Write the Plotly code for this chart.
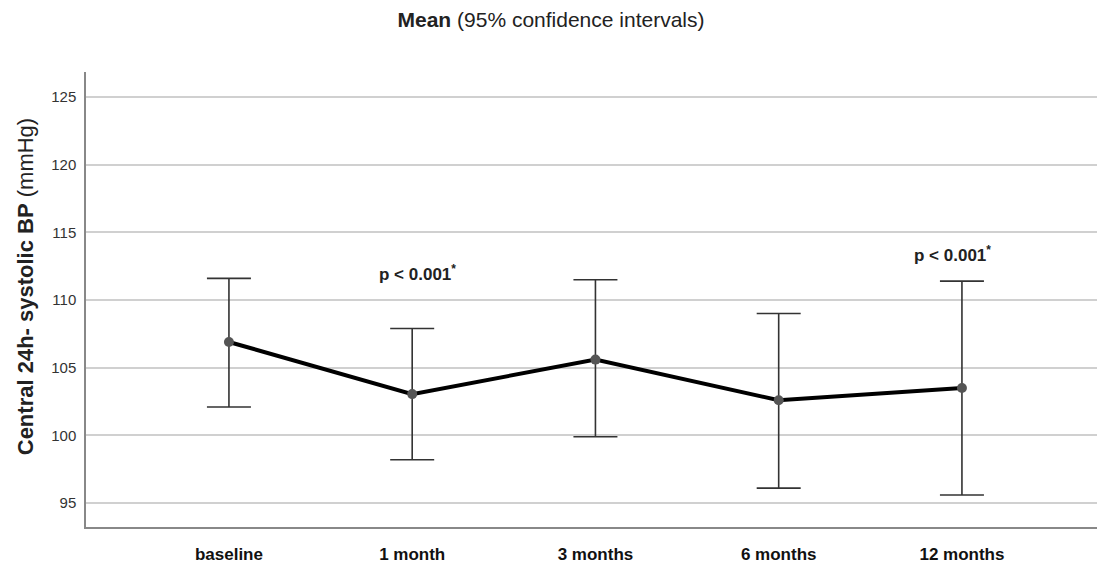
import plotly.graph_objects as go

categories = ["baseline", "1 month", "3 months", "6 months", "12 months"]
means = [106.9, 103.05, 105.6, 102.6, 103.5]
upper = [111.6, 107.9, 111.5, 109.0, 111.4]
lower = [102.1, 98.2, 99.9, 96.1, 95.6]
y_ticks = [95, 100, 105, 110, 115, 120, 125]

err_plus = [u - m for u, m in zip(upper, means)]
err_minus = [m - l for m, l in zip(means, lower)]
xs = list(range(len(categories)))

fig = go.Figure()
fig.add_trace(go.Scatter(
    x=xs, y=means, mode="lines+markers",
    line=dict(color="black", width=4),
    marker=dict(color="#555555", size=10),
    error_y=dict(type="data", symmetric=False, array=err_plus, arrayminus=err_minus,
                 color="#333333", thickness=1.6, width=22),
    showlegend=False, hoverinfo="y",
))

font_family = "Liberation Sans, Arial, sans-serif"

fig.update_layout(
    width=1097, height=569,
    margin=dict(l=86, r=0, t=72, b=42),
    paper_bgcolor="white", plot_bgcolor="white",
    font=dict(family=font_family, color="#222222"),
    title=dict(text="<b>Mean</b> (95% confidence intervals)", x=0.5023, xanchor="center",
               yref="container", y=0.978, yanchor="top", font=dict(size=21, color="#222222")),
    xaxis=dict(
        range=[-0.78, 4.737], tickmode="array", tickvals=xs,
        ticktext=["<b>%s</b>" % c for c in categories],
        tickfont=dict(size=17, color="#111111"),
        showgrid=False, zeroline=False, showline=True, linecolor="#888888", linewidth=1.5,
        ticks="", ticklabelstandoff=11, automargin=False,
    ),
    yaxis=dict(
        range=[93.23, 126.85], tickmode="array", tickvals=y_ticks,
        tickfont=dict(size=15, color="#333333"),
        showgrid=True, gridcolor="#d0d0d0", gridwidth=1.5,
        zeroline=False, showline=True, linecolor="#888888", linewidth=1.5,
        ticks="", ticklabelstandoff=5, automargin=False,
    ),
)

fig.add_annotation(xref="paper", yref="paper", x=-0.0603, y=0.527,
                   text="<b>Central 24h- systolic BP</b> (mmHg)", textangle=-90,
                   showarrow=False, xanchor="center", yanchor="middle",
                   font=dict(size=22, color="#222222", family=font_family))

fig.add_annotation(x=1.03, y=112.0, xref="x", yref="y",
                   text="<b>p < 0.001<sup>*</sup></b>", showarrow=False,
                   font=dict(size=17, color="#222222", family=font_family))
fig.add_annotation(x=3.95, y=113.4, xref="x", yref="y",
                   text="<b>p < 0.001<sup>*</sup></b>", showarrow=False,
                   font=dict(size=17, color="#222222", family=font_family))

# remove the default page margin so the figure fills the window exactly
fig.write_html(
    "out.html",
    config={"displayModeBar": False},
    post_script="document.body.style.margin='0';"
                "document.body.style.overflow='hidden';"
                "document.documentElement.style.overflow='hidden';",
)
